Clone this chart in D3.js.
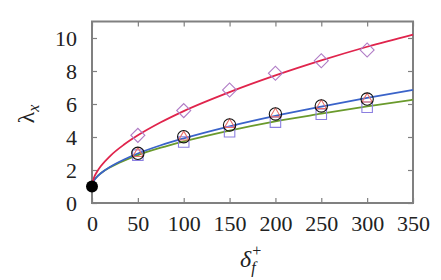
<!DOCTYPE html>
<html>
<head>
<meta charset="utf-8">
<script src="https://cdn.jsdelivr.net/npm/d3@7"></script>
<style>
  body { margin: 0; background: #fff; }
  svg text { font-family: "Liberation Serif", "Times New Roman", serif; fill: #222; }
</style>
</head>
<body>
<div id="chart"></div>
<script>
// fitted curves
const curveX = [0, 2, 5, 10, 20, 35, 50, 75, 100, 150, 200, 250, 300, 350];
const redCurve = [1, 1.51, 1.85, 2.26, 2.86, 3.54, 4.1, 4.89, 5.57, 6.72, 7.73, 8.64, 9.47, 10.21];
const blueCurve = [1, 1.34, 1.56, 1.82, 2.2, 2.64, 3.0, 3.5, 3.92, 4.65, 5.28, 5.84, 6.37, 6.85];
const greenCurve = [1, 1.35, 1.57, 1.82, 2.17, 2.57, 2.9, 3.35, 3.73, 4.39, 4.95, 5.41, 5.85, 6.26];

// simulation points
const pointX = [50, 100, 150, 200, 250, 300];
const diamonds = [4.1, 5.6, 6.85, 7.86, 8.62, 9.27];
const circles = [3.01, 4.02, 4.73, 5.4, 5.88, 6.3];
const triangles = [3.0, 4.0, 4.75, 5.4, 5.9, 6.3];
const squares = [2.9, 3.7, 4.32, 4.9, 5.38, 5.8];

const xTicks = [0, 50, 100, 150, 200, 250, 300, 350];
const yTicks = [0, 2, 4, 6, 8, 10];

const margin = { top: 21.5, right: 28, bottom: 77, left: 92 };
const W = 441, H = 280;
const width = W - margin.left - margin.right;
const height = H - margin.top - margin.bottom;
const serif = '"Liberation Serif", "Times New Roman", serif';

const svg = d3.select('#chart').append('svg')
    .attr('width', W)
    .attr('height', H);

const g = svg.append('g')
    .attr('transform', `translate(${margin.left},${margin.top})`);

const x = d3.scaleLinear().domain([0, 350]).range([0, width]);
const y = d3.scaleLinear().domain([0, 11]).range([height, 0]);

const axisColor = '#808080';

// ticks on all four sides, pointing inward
const ax = [
    { a: d3.axisBottom(x).tickValues(xTicks).tickSize(-5).tickFormat(d => d).tickPadding(12), t: `translate(0,${height})` },
    { a: d3.axisTop(x).tickValues(xTicks).tickSize(-5).tickFormat(''), t: 'translate(0,0)' },
    { a: d3.axisLeft(y).tickValues(yTicks).tickSize(-5).tickFormat(d => d).tickPadding(15), t: 'translate(0,0)' },
    { a: d3.axisRight(y).tickValues(yTicks).tickSize(-5).tickFormat(''), t: `translate(${width},0)` }
];
ax.forEach(o => {
    const gg = g.append('g').attr('transform', o.t).call(o.a)
        .attr('font-family', serif).attr('font-size', 22);
    gg.select('.domain').remove();
    gg.selectAll('line').attr('stroke', axisColor).attr('stroke-width', 1.2);
    gg.selectAll('text').attr('fill', '#222');
});
g.append('rect')
    .attr('width', width).attr('height', height)
    .attr('fill', 'none').attr('stroke', axisColor).attr('stroke-width', 2);

// curves
const line = d3.line()
    .x((d, i) => x(curveX[i]))
    .y(d => y(d))
    .curve(d3.curveMonotoneX);

[[greenCurve, '#6a9a2c'], [blueCurve, '#3a63c9'], [redCurve, '#e0244c']].forEach(([data, c]) => {
    g.append('path').datum(data)
        .attr('d', line)
        .attr('fill', 'none')
        .attr('stroke', c)
        .attr('stroke-width', 1.8);
});

// markers
function markers(data, type, size, color, rot) {
    g.selectAll(null)
        .data(data)
      .enter().append('path')
        .attr('transform', (d, i) => `translate(${x(pointX[i])},${y(d)}) rotate(${rot || 0})`)
        .attr('d', d3.symbol().type(type).size(size))
        .attr('fill', 'none')
        .attr('stroke', color)
        .attr('stroke-width', 1.1);
}
markers(squares, d3.symbolSquare, 110, '#8b7fe0');
markers(diamonds, d3.symbolSquare, 98, '#b07cc6', 45);
markers(triangles, d3.symbolTriangle, 45, '#e8706a');
markers(circles, d3.symbolCircle, 120, '#111');

// start point
g.append('circle')
    .attr('cx', x(0)).attr('cy', y(1))
    .attr('r', 6).attr('fill', '#000');

// axis labels
const yl = svg.append('text')
    .attr('transform', 'translate(34,114) rotate(-90)')
    .attr('text-anchor', 'middle')
    .style('font-size', '24px');
yl.append('tspan').text('λ');
yl.append('tspan').attr('dy', 5).style('font-size', '16px').style('font-style', 'italic').text('x');

const xl = svg.append('text')
    .attr('x', 240).attr('y', 267)
    .style('font-size', '24px');
xl.append('tspan').style('font-style', 'italic').text('δ');
xl.append('tspan').attr('dy', -11).attr('dx', 1).style('font-size', '16px').text('+');
xl.append('tspan').attr('dy', 17).attr('dx', -10).style('font-size', '16px').style('font-style', 'italic').text('f');
</script>
</body>
</html>
